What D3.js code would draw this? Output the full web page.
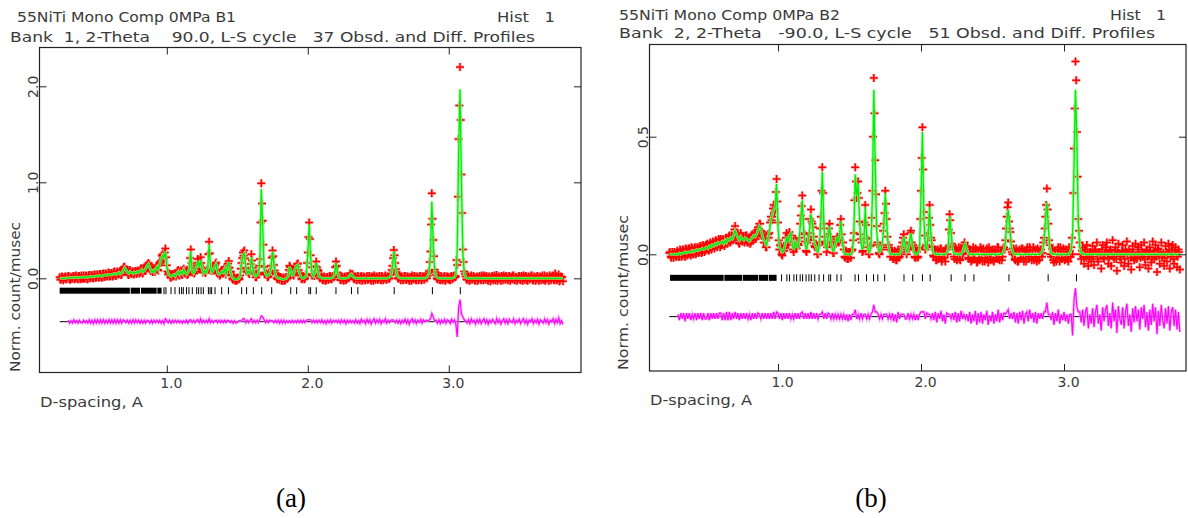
<!DOCTYPE html>
<html><head><meta charset="utf-8">
<script src="https://cdn.jsdelivr.net/npm/d3@7"></script>
<style>
body{margin:0;background:#fff}
svg{display:block}
text{font-family:"DejaVu Sans",sans-serif;fill:#3a3a3a}
</style>
</head><body>
<svg id="c" width="1188" height="518"></svg>
<script>
// ---------- sampling grid (D-spacing, A) ----------
const dStart = 0.24, dStep = 0.01;      // main points at 0.24, 0.25, ...; mid points at 0.245, 0.255, ...

// ---------- Bank 1 ----------
const calcB1 = [
/*0.24*/ 0,0,0,0,0,0.005,
/*0.30*/ 0.005,0.005,0.005,0.01,0.005,0.01,0.01,0.005,0.01,0.01,
/*0.40*/ 0.01,0.015,0.01,0.015,0.01,0.015,0.02,0.015,0.02,0.02,
/*0.50*/ 0.025,0.02,0.03,0.025,0.02,0.03,0.035,0.03,0.04,0.035,
/*0.60*/ 0.04,0.035,0.045,0.05,0.04,0.05,0.06,0.045,0.055,0.08,
/*0.70*/ 0.11,0.09,0.06,0.05,0.07,0.06,0.05,0.065,0.055,0.07,
/*0.80*/ 0.06,0.075,0.09,0.065,0.08,0.10,0.13,0.15,0.11,0.07,
/*0.90*/ 0.08,0.06,0.10,0.12,0.09,0.15,0.20,0.24,0.22,0.28,
/*1.00*/ 0.12,0.05,0.03,0.02,0.03,0.04,0.02,0.05,0.07,0.04,
/*1.10*/ 0.07,0.05,0.09,0.06,0.04,0.06,0.10,0.28,0.07,0.05,
/*1.20*/ 0.08,0.12,0.18,0.11,0.19,0.10,0.05,0.08,0.06,0.10,
/*1.30*/ 0.35,0.12,0.06,0.09,0.12,0.15,0.06,0.04,0.05,0.07,
/*1.40*/ 0.06,0.10,0.05,0.11,0.17,0.08,0.02,0,-0.01,-0.01,
/*1.50*/ -0.01,-0.005,0.02,0.15,0.24,0.26,0.12,0.05,0.07,0.05,
/*1.60*/ 0.22,0.12,0.04,0.02,0.03,0.05,0.18,0.93,0.55,0.10,
/*1.70*/ 0.05,0.02,0.03,0.05,0.12,0.28,0.15,0.04,0.01,0,
/*1.80*/ 0,-0.005,-0.01,-0.01,-0.005,0,0.02,0.12,0.08,0.03,
/*1.90*/ 0.04,0.10,0.13,0.14,0.06,0.02,0,0,0.01,0.03,
/*2.00*/ 0.25,0.56,0.22,0.04,0.02,0.06,0.16,0.10,0.02,0.01,
/*2.10*/ 0,0,0,0,0,0,0,0.005,0.01,0.04,
/*2.20*/ 0.16,0.07,0.01,0,0,0,0,0,0.005,0.01,
/*2.30*/ 0.035,0.045,0.02,0.005,0,0,0,0,0,0,
/*2.40*/ 0,0,0,0,0,0,0,0,0,0,
/*2.50*/ 0,0,0,0,0,0,0,0.005,0.01,0.03,
/*2.60*/ 0.11,0.28,0.17,0.05,0.015,0.005,0,0,0,0,
/*2.70*/ 0,0,0,0,0,0,0,0,0,0,
/*2.80*/ 0,0,0,0,0.005,0.02,0.06,0.25,0.80,0.35,
/*2.90*/ 0.08,0.02,0.005,0,0,0,0,0,0,0,
/*3.00*/ 0,0,0,0.005,0.01,0.04,0.30,1.30,1.97,1.00,
/*3.10*/ 0.25,0.05,0.01,0,0,0,0,0,0,0,
/*3.20*/ 0,0,0,0,0,0,0,0,0,0,
/*3.30*/ 0,0,0,0,0,0,0,0,0,0,
/*3.40*/ 0,0,0,0,0,0,0,0,0,0,
/*3.50*/ 0,0,0,0,0,0,0,0,0,0,
/*3.60*/ 0,0,0,0,0,0,0,0,0,0,
/*3.70*/ 0,0,0,0,0,0,0,0,0,0,
/*3.80*/ 0,0
];
const obsB1 = [
/*0.24*/ 0.01,-0.01,0.015,-0.005,0.02,-0.01,
/*0.30*/ 0.02,-0.01,0.015,-0.005,0.025,0,0.02,-0.01,0.025,0,
/*0.40*/ -0.005,0.03,0,0.025,-0.005,0.035,0.005,0.03,0,0.04,
/*0.50*/ 0.01,0.04,0.015,0.045,0.005,0.05,0.02,0.045,0.025,0.055,
/*0.60*/ 0.025,0.055,0.03,0.07,0.025,0.07,0.045,0.065,0.04,0.10,
/*0.70*/ 0.12,0.08,0.075,0.035,0.085,0.045,0.07,0.05,0.075,0.06,
/*0.80*/ 0.075,0.06,0.105,0.05,0.095,0.085,0.145,0.16,0.095,0.085,
/*0.90*/ 0.065,0.075,0.09,0.135,0.08,0.165,0.185,0.25,0.20,0.31,
/*1.00*/ 0.135,0.04,0.045,0.005,0.045,0.03,0.035,0.04,0.085,0.03,
/*1.10*/ 0.08,0.035,0.10,0.05,0.055,0.045,0.115,0.30,0.06,0.065,
/*1.20*/ 0.07,0.135,0.20,0.10,0.22,0.09,0.065,0.07,0.075,0.09,
/*1.30*/ 0.38,0.11,0.075,0.08,0.13,0.165,0.05,0.055,0.04,0.085,
/*1.40*/ 0.05,0.115,0.04,0.125,0.18,0.07,0.03,-0.015,0,-0.025,
/*1.50*/ -0.02,0.005,0.03,0.16,0.27,0.29,0.11,0.065,0.06,0.065,
/*1.60*/ 0.25,0.11,0.055,0.01,0.045,0.04,0.20,0.99,0.60,0.12,
/*1.70*/ 0.04,0.035,0.02,0.065,0.13,0.29,0.14,0.055,0,0.015,
/*1.80*/ -0.015,0.01,-0.025,0.005,-0.02,0.01,0.01,0.13,0.07,0.045,
/*1.90*/ 0.03,0.11,0.12,0.155,0.05,0.035,-0.01,0.015,0,0.045,
/*2.00*/ 0.27,0.58,0.24,0.03,0.035,0.05,0.175,0.09,0.035,0,
/*2.10*/ 0.02,-0.015,0.01,-0.02,0.015,-0.01,0.02,-0.01,0.025,0.035,
/*2.20*/ 0.175,0.06,0.025,-0.015,0.02,-0.01,0.015,-0.02,0.02,0,
/*2.30*/ 0.05,0.035,0.03,-0.01,0.02,-0.015,0.01,-0.02,0.025,-0.005,
/*2.40*/ 0.015,-0.02,0.025,-0.01,0.02,-0.025,0.01,0.03,-0.015,0.02,
/*2.50*/ -0.01,0.025,-0.02,0.015,-0.005,0.03,-0.015,0.02,0,0.045,
/*2.60*/ 0.13,0.295,0.16,0.065,0,0.02,-0.02,0.015,-0.01,0.025,
/*2.70*/ -0.015,0.02,-0.025,0.01,0.03,-0.01,0.02,-0.02,0.015,-0.005,
/*2.80*/ 0.025,-0.015,0.02,0,0.02,0.03,0.075,0.28,0.885,0.40,
/*2.90*/ 0.09,0.035,-0.01,0.02,-0.02,0.015,-0.01,0.025,-0.015,0.02,
/*3.00*/ 0.01,-0.02,0.025,0,0.03,0.02,0.14,1.45,2.20,1.08,
/*3.10*/ 0.30,0.07,0.02,-0.015,0.02,-0.02,0.03,-0.005,0.015,-0.025,
/*3.20*/ 0.02,-0.01,0.025,-0.02,0.01,0.03,-0.015,0.02,-0.025,0.015,
/*3.30*/ -0.01,0.025,0,-0.02,0.035,-0.01,0.02,-0.025,0.01,0.03,
/*3.40*/ -0.015,0.02,-0.02,0.025,0,-0.01,0.03,-0.02,0.015,-0.005,
/*3.50*/ 0.025,-0.02,0.01,0.03,-0.015,0.02,-0.025,0.015,0,0.03,
/*3.60*/ -0.02,0.015,-0.01,0.025,-0.025,0.02,0.005,-0.015,0.03,-0.01,
/*3.70*/ 0.02,-0.025,0.015,0,0.03,-0.02,0.025,-0.01,0.04,-0.02,
/*3.80*/ 0.01,-0.03
];
const obsMidB1 = [
/*0.245*/ -0.015,0.02,-0.02,0.01,-0.01,0.02,
/*0.305*/ 0.025,-0.015,0,0.025,-0.01,0.03,-0.005,0.025,-0.01,0.03,
/*0.405*/ 0,-0.005,0.03,-0.01,0.03,0,0.035,0,0.04,0.005,
/*0.505*/ 0.04,0.005,0.045,0.01,0.045,0.015,0.05,0.02,0.06,0.02,
/*0.605*/ 0.055,0.02,0.065,0.03,0.06,0.04,0.07,0.035,0.085,0.115,
/*0.705*/ 0.085,0.095,0.04,0.075,0.05,0.07,0.04,0.075,0.045,0.08,
/*0.805*/ 0.05,0.10,0.06,0.09,0.075,0.13,0.125,0.145,0.075,0.09,
/*0.905*/ 0.085,0.065,0.125,0.09,0.135,0.16,0.235,0.215,0.27,0.22,
/*1.005*/ 0.07,0.055,0.01,0.04,0.02,0.045,0.02,0.075,0.04,0.07,
/*1.105*/ 0.045,0.085,0.06,0.065,0.035,0.095,0.21,0.16,0.075,0.05,
/*1.205*/ 0.115,0.135,0.16,0.135,0.16,0.06,0.08,0.055,0.095,0.25,
/*1.305*/ 0.26,0.075,0.09,0.09,0.15,0.09,0.065,0.03,0.075,0.05,
/*1.405*/ 0.095,0.06,0.095,0.155,0.11,0.065,-0.005,0.01,-0.025,0.005,
/*1.505*/ 0.005,-0.01,0.10,0.21,0.235,0.205,0.07,0.075,0.045,0.15,
/*1.605*/ 0.185,0.065,0.045,0.01,0.055,0.13,0.58,0.78,0.35,0.06,
/*1.705*/ 0.05,0.01,0.055,0.07,0.215,0.23,0.08,0.04,-0.01,0.02,
/*1.805*/ 0.015,-0.025,0.005,-0.025,0.015,-0.005,0.085,0.115,0.04,0.05,
/*1.905*/ 0.085,0.10,0.15,0.085,0.055,-0.005,0.015,-0.01,0.035,0.16,
/*2.005*/ 0.43,0.41,0.115,0.045,0.025,0.125,0.115,0.075,0,0.02,
/*2.105*/ -0.02,0.02,-0.025,0.01,-0.015,0.025,-0.01,0.02,0.01,0.115,
/*2.205*/ 0.13,0.025,0.02,-0.02,0.015,-0.025,0.02,-0.01,0.025,0.01,
/*2.305*/ 0.025,0.045,0,0.02,-0.02,0.025,-0.01,0.015,-0.025,0.02,
/*2.405*/ -0.02,0.01,-0.015,0.025,-0.01,0.02,-0.025,0,0.02,-0.015,
/*2.505*/ 0.02,-0.015,0.025,-0.02,0.01,-0.01,0.02,-0.005,0.035,0.085,
/*2.605*/ 0.21,0.24,0.095,0.045,-0.005,0.015,0.02,-0.02,0.025,-0.015,
/*2.705*/ 0.02,-0.01,0.015,-0.025,0,0.025,-0.015,0.02,-0.02,0.025,
/*2.805*/ -0.02,0.02,-0.015,0.015,0,0.055,0.17,0.56,0.62,0.23,
/*2.905*/ 0.065,0,0.02,-0.015,0.025,-0.02,0.01,-0.025,0.02,-0.01,
/*3.005*/ -0.015,0.02,-0.01,0.025,0.01,0.19,0.85,1.80,1.65,0.68,
/*3.105*/ 0.17,0.045,-0.01,0.02,-0.025,0.015,-0.015,0.025,-0.02,0.01,
/*3.205*/ -0.025,0.015,-0.01,0.03,-0.02,0.005,0.025,-0.015,0.02,-0.03,
/*3.305*/ 0.02,-0.02,0.03,0.005,-0.025,0.02,-0.01,0.025,-0.02,0.01,
/*3.405*/ 0.025,-0.01,0.02,-0.025,0.015,0.03,-0.02,0.01,-0.025,0.02,
/*3.505*/ -0.015,0.025,-0.025,0.005,0.025,-0.02,0.02,-0.01,0.03,-0.02,
/*3.605*/ 0.02,-0.025,0.02,-0.015,0.01,-0.02,0.03,-0.01,-0.025,0.02,
/*3.705*/ -0.01,0.03,-0.02,0.025,-0.015,0.05,-0.02,0.015,-0.03,0.02,
/*3.805*/ 0.015
];
const refBandsB1 = [[0.24,0.738],[0.744,0.81],[0.817,0.928],[0.933,0.963]];
const refB1 = [0.98,0.994,1.03,1.058,1.089,1.105,1.117,1.14,1.157,1.181,1.212,1.226,1.243,1.259,
  1.295,1.307,1.318,1.342,1.389,1.437,1.531,1.566,1.614,1.673,1.744,1.879,1.921,2.008,2.02,2.06,
  2.2,2.31,2.355,2.613,2.884,3.082];

// ---------- Bank 2 ----------
const calcB2 = [
/*0.24*/ 0,0,0,0,0,0,
/*0.30*/ 0,0.005,0,0.005,0.005,0.01,0.005,0.01,0.01,0.01,
/*0.40*/ 0.015,0.01,0.015,0.02,0.015,0.02,0.02,0.025,0.02,0.025,
/*0.50*/ 0.03,0.025,0.035,0.03,0.04,0.035,0.045,0.04,0.05,0.045,
/*0.60*/ 0.05,0.055,0.045,0.06,0.05,0.065,0.06,0.07,0.065,0.08,
/*0.70*/ 0.10,0.085,0.07,0.06,0.075,0.065,0.06,0.07,0.065,0.06,
/*0.80*/ 0.055,0.065,0.07,0.08,0.075,0.085,0.10,0.12,0.11,0.08,
/*0.90*/ 0.06,0.05,0.04,0.07,0.10,0.145,0.17,0.19,0.20,0.30,
/*1.00*/ 0.12,0.03,0.02,0.01,0.015,0.04,0.075,0.05,0.08,0.09,
/*1.10*/ 0.04,0.02,0.05,0.035,0.03,0.08,0.15,0.23,0.10,0.04,
/*1.20*/ 0.02,0.05,0.10,0.17,0.14,0.06,0.04,0.02,0.01,0.04,
/*1.30*/ 0.15,0.35,0.14,0.04,0.02,0.07,0.12,0.06,0.02,0.015,
/*1.40*/ 0.04,0.075,0.05,0.08,0.14,0.06,0.01,0,0,0,
/*1.50*/ 0,0,0.01,0.08,0.34,0.25,0.30,0.15,0.05,0.02,
/*1.60*/ 0.04,0.20,0.08,0.02,0.01,0.03,0.25,0.70,0.38,0.10,
/*1.70*/ 0.03,0.01,0.02,0.05,0.12,0.26,0.14,0.04,0.01,0,
/*1.80*/ 0,0,0,0,0,0,0.01,0.04,0.075,0.04,
/*1.90*/ 0.01,0.02,0.06,0.09,0.04,0.01,0,0,0.005,0.02,
/*2.00*/ 0.25,0.52,0.16,0.03,0.02,0.08,0.20,0.08,0.015,0.005,
/*2.10*/ 0,0,0,0,0,0,0,0,0.005,0.02,
/*2.20*/ 0.16,0.10,0.02,0.005,0,0,0,0,0,0.01,
/*2.30*/ 0.03,0.045,0.02,0.005,0,0,0,0,0,0,
/*2.40*/ 0,0,0,0,0,0,0,0,0,0,
/*2.50*/ 0,0,0,0,0,0,0,0.005,0.015,0.05,
/*2.60*/ 0.14,0.19,0.12,0.04,0.01,0,0,0,0,0,
/*2.70*/ 0,0,0,0,0,0,0,0,0,0,
/*2.80*/ 0,0,0,0,0.005,0.015,0.05,0.14,0.22,0.12,
/*2.90*/ 0.03,0.005,0,0,0,0,0,0,0,0,
/*3.00*/ 0,0,0,0,0.005,0.02,0.08,0.38,0.70,0.48,
/*3.10*/ 0.13,0.03,0.005,0,0,0,0,0,0,0,
/*3.20*/ 0,0,0,0,0,0,0,0,0,0,
/*3.30*/ 0,0,0,0,0,0,0,0,0,0,
/*3.40*/ 0,0,0,0,0,0,0,0,0,0,
/*3.50*/ 0,0,0,0,0,0,0,0,0,0,
/*3.60*/ 0,0,0,0,0,0,0,0,0,0,
/*3.70*/ 0,0,0,0,0,0,0,0,0,0,
/*3.80*/ 0,0
];
const obsB2 = [
/*0.24*/ 0.005,-0.01,0.01,-0.015,0.005,-0.01,
/*0.30*/ 0.01,-0.01,0.015,-0.005,0.02,-0.01,0.02,0,0.025,-0.005,
/*0.40*/ 0.025,0,0.03,0.005,0.03,0.01,0.035,0.01,0.035,0.015,
/*0.50*/ 0.02,0.04,0.02,0.045,0.03,0.05,0.035,0.055,0.04,0.06,
/*0.60*/ 0.065,0.04,0.06,0.045,0.07,0.05,0.08,0.055,0.08,0.07,
/*0.70*/ 0.12,0.075,0.085,0.045,0.09,0.055,0.075,0.06,0.08,0.05,
/*0.80*/ 0.065,0.05,0.085,0.07,0.09,0.075,0.115,0.13,0.10,0.095,
/*0.90*/ 0.05,0.065,0.03,0.085,0.09,0.16,0.16,0.21,0.19,0.32,
/*1.00*/ 0.135,0.02,0.035,-0.005,0.03,0.03,0.09,0.04,0.095,0.08,
/*1.10*/ 0.05,0.01,0.065,0.025,0.045,0.07,0.165,0.25,0.09,0.055,
/*1.20*/ 0.01,0.065,0.09,0.19,0.13,0.075,0.03,0.035,0,0.05,
/*1.30*/ 0.16,0.37,0.13,0.055,0.01,0.085,0.13,0.05,0.035,0.005,
/*1.40*/ 0.05,0.065,0.06,0.07,0.15,0.05,0.02,-0.015,0.01,-0.02,
/*1.50*/ 0.01,-0.015,0.02,0.09,0.37,0.24,0.31,0.14,0.065,0.01,
/*1.60*/ 0.05,0.21,0.07,0.03,0,0.04,0.27,0.75,0.40,0.12,
/*1.70*/ 0.04,0,0.03,0.04,0.13,0.27,0.15,0.03,0.02,-0.01,
/*1.80*/ 0.015,-0.02,0.01,-0.025,0.02,-0.01,0.02,0.05,0.085,0.03,
/*1.90*/ 0,0.035,0.05,0.10,0.03,0.02,-0.015,0.01,-0.01,0.03,
/*2.00*/ 0.27,0.54,0.18,0.02,0.035,0.09,0.21,0.07,0.03,-0.01,
/*2.10*/ 0.02,-0.025,0.015,-0.01,0.025,-0.02,0.01,-0.03,0.02,0.03,
/*2.20*/ 0.17,0.09,0.035,-0.01,0.02,-0.025,0.015,-0.02,0.025,0,
/*2.30*/ 0.04,0.035,0.03,-0.015,0.02,-0.03,0.01,-0.02,0.025,-0.035,
/*2.40*/ 0.015,-0.025,0.02,-0.03,0.01,-0.015,0.025,-0.035,0.005,-0.02,
/*2.50*/ 0.02,-0.03,0.01,-0.02,0.03,-0.025,0.015,-0.01,0.03,0.06,
/*2.60*/ 0.16,0.22,0.11,0.055,0,0.02,-0.025,0.015,-0.03,0.02,
/*2.70*/ -0.015,0.025,-0.03,0.01,0.02,-0.02,0.03,-0.01,0.015,-0.025,
/*2.80*/ 0.02,-0.03,0.015,-0.01,0.02,0.005,0.07,0.16,0.28,0.13,
/*2.90*/ 0.04,-0.01,0.02,-0.035,0.015,-0.02,0.03,-0.03,0.01,-0.015,
/*3.00*/ 0.02,-0.02,0.01,-0.03,0.015,0.03,0,0.45,0.82,0.52,
/*3.10*/ 0.15,0.05,-0.02,0.03,-0.04,0.02,0.04,-0.05,0.01,-0.03,
/*3.20*/ 0.035,-0.045,0.02,0.05,-0.03,0.01,-0.06,0.04,-0.02,0.03,
/*3.30*/ 0.05,-0.04,0.015,-0.05,0.06,-0.02,0.03,-0.07,0.045,-0.01,
/*3.40*/ -0.035,0.04,-0.05,0.02,0.055,-0.04,0.01,-0.065,0.035,-0.025,
/*3.50*/ 0.045,-0.02,0.03,-0.055,0.04,-0.01,0.05,-0.045,0.02,-0.06,
/*3.60*/ 0.03,-0.035,0.055,-0.02,0.04,-0.075,0.025,-0.04,0.05,-0.015,
/*3.70*/ -0.05,0.035,-0.03,0.045,-0.06,0.02,0.04,-0.04,0.03,-0.055,
/*3.80*/ 0.02,-0.065
];
const obsMidB2 = [
/*0.245*/ 0.01,-0.015,0,0.01,-0.01,0.015,
/*0.305*/ -0.01,0.02,-0.01,0.02,-0.005,0.025,-0.005,0.025,0,0.03,
/*0.405*/ 0,0.025,0,0.03,0.005,0.035,0.005,0.04,0.01,0.04,
/*0.505*/ 0.045,0.015,0.05,0.02,0.055,0.025,0.06,0.03,0.065,0.03,
/*0.605*/ 0.04,0.065,0.035,0.07,0.045,0.075,0.05,0.08,0.06,0.105,
/*0.705*/ 0.08,0.09,0.05,0.08,0.06,0.075,0.05,0.08,0.05,0.07,
/*0.805*/ 0.045,0.08,0.06,0.09,0.065,0.105,0.095,0.13,0.08,0.085,
/*0.905*/ 0.07,0.03,0.07,0.07,0.135,0.145,0.195,0.18,0.265,0.225,
/*1.005*/ 0.06,0.04,0,0.025,0.015,0.07,0.05,0.08,0.07,0.08,
/*1.105*/ 0.02,0.05,0.03,0.045,0.04,0.13,0.205,0.15,0.085,0.015,
/*1.205*/ 0.05,0.06,0.15,0.14,0.115,0.035,0.045,0,0.04,0.11,
/*1.305*/ 0.27,0.26,0.075,0.045,0.03,0.11,0.075,0.055,0.005,0.04,
/*1.405*/ 0.045,0.075,0.05,0.125,0.085,0.05,-0.01,0.015,-0.02,0.01,
/*1.505*/ -0.015,0.015,0.06,0.23,0.31,0.26,0.24,0.085,0.05,0.015,
/*1.605*/ 0.135,0.125,0.065,0,0.035,0.155,0.50,0.60,0.255,0.05,
/*1.705*/ 0.005,0.03,0.02,0.10,0.175,0.215,0.075,0.04,-0.01,0.015,
/*1.805*/ -0.02,0.015,-0.025,0.01,-0.015,0.02,0.01,0.07,0.045,0.04,
/*1.905*/ 0.03,0.025,0.09,0.05,0.04,-0.01,0.015,-0.015,0.025,0.15,
/*2.005*/ 0.41,0.36,0.08,0.04,0.035,0.155,0.125,0.06,-0.005,0.02,
/*2.105*/ -0.025,0.02,-0.02,0.025,-0.03,0.015,-0.015,0.025,0,0.105,
/*2.205*/ 0.145,0.045,0.03,-0.02,0.025,-0.02,0.03,-0.025,0.02,0.005,
/*2.305*/ 0.05,0.02,0.03,-0.02,0.02,-0.025,0.03,-0.015,0.02,-0.03,
/*2.405*/ -0.02,0.03,-0.015,0.025,-0.03,0.01,-0.02,0.03,-0.025,0.015,
/*2.505*/ -0.025,0.02,-0.015,0.03,-0.02,0.015,-0.025,0.025,0.02,0.11,
/*2.605*/ 0.20,0.14,0.095,0.01,0.025,-0.02,0.025,-0.03,0.015,-0.02,
/*2.705*/ 0.025,-0.02,0.015,-0.03,0.03,-0.01,0.02,-0.025,0.03,-0.015,
/*2.805*/ -0.02,0.025,-0.025,0.02,-0.01,0.05,0.11,0.21,0.19,0.06,
/*2.905*/ 0,0.025,-0.025,0.015,-0.03,0.02,-0.015,0.03,-0.02,0.025,
/*3.005*/ -0.025,0.02,-0.02,0.03,-0.01,0.07,0.26,0.62,0.74,0.33,
/*3.105*/ 0.10,0,0.015,-0.01,0.02,-0.015,0.005,-0.02,0.01,0,
/*3.205*/ -0.01,0.015,0.005,-0.02,0.01,-0.005,0.02,-0.015,0,0.01,
/*3.305*/ 0.005,-0.015,0.02,0,-0.01,0.015,-0.02,0.01,0.005,-0.01,
/*3.405*/ 0.015,-0.005,-0.02,0.01,0,0.02,-0.015,0.005,0.01,-0.02,
/*3.505*/ -0.005,0.02,0,-0.015,0.01,0.005,-0.02,0.015,-0.01,0,
/*3.605*/ 0.01,-0.02,0.015,0,-0.01,0.02,-0.005,0.01,-0.015,0.005,
/*3.705*/ -0.015,0.01,0,0.02,-0.01,0.005,-0.02,0.015,0,-0.01,
/*3.805*/ 0.01
];
const refBandsB2 = [[0.245,0.62],[0.625,0.75],[0.755,0.86],[0.865,0.93],[0.935,0.99]];
const refB2 = [1.025,1.062,1.081,1.111,1.13,1.155,1.172,1.196,1.216,1.233,1.257,1.287,1.319,
  1.355,1.368,1.412,1.441,1.539,1.563,1.619,1.668,1.698,1.746,1.881,1.942,2.01,2.064,2.211,
  2.308,2.37,2.615,2.889,3.087];

// ---------- axes / labels ----------
const xTicks = [1, 2, 3];
const xTickLabels = ["1.0", "2.0", "3.0"];
const yTicksB1 = [0, 1, 2];
const yTickLabelsB1 = ["0.0", "1.0", "2.0"];
const yTicksB2 = [0, 0.5];
const yTickLabelsB2 = ["0.0", "0.5"];
const titleB1 = "55NiTi Mono Comp 0MPa B1";
const subtitleB1 = "Bank  1, 2-Theta    90.0, L-S cycle   37 Obsd. and Diff. Profiles";
const titleB2 = "55NiTi Mono Comp 0MPa B2";
const subtitleB2 = "Bank  2, 2-Theta   -90.0, L-S cycle   51 Obsd. and Diff. Profiles";
const histLabel = "Hist   1";
const yTitle = "Norm. count/musec";
const xTitle = "D-spacing, A";
const captions = ["(a)", "(b)"];

const svg = d3.select("#c");

const panels = [
  {calc: calcB1, obs: obsB1, obsMid: obsMidB1, bands: refBandsB1, refs: refB1, yTicks: yTicksB1, yLabels: yTickLabelsB1,
   title: titleB1, sub: subtitleB1, caption: captions[0],
   L: 39.5, R: 581, T: 47.5, B: 372.5, xDom: [0.097, 3.938], y0: 278.3, yPerUnit: 96,
   refLevel: -0.129, diffLevel: -0.452,
   t1: {x: 17, y: 22, len: 219}, hist: {x: 497, y: 22, len: 58}, t2: {x: 10, y: 42, len: 525},
   yt: {x: 20, y: 372, len: 150}, xt: {x: 40, y: 407, len: 103}, cap: {x: 291, y: 507}},
  {calc: calcB2, obs: obsB2, obsMid: obsMidB2, bands: refBandsB2, refs: refB2, yTicks: yTicksB2, yLabels: yTickLabelsB2,
   title: titleB2, sub: subtitleB2, caption: captions[1],
   L: 649.5, R: 1186, T: 44.5, B: 371, xDom: [0.1014, 3.853], y0: 254.3, yPerUnit: 235.2,
   refLevel: -0.10, diffLevel: -0.265,
   t1: {x: 619, y: 20, len: 221}, hist: {x: 1110, y: 20, len: 56}, t2: {x: 619, y: 38, len: 536},
   yt: {x: 628, y: 370, len: 155}, xt: {x: 650, y: 405, len: 102}, cap: {x: 871, y: 507}}
];

panels.forEach(p => {
  const g = svg.append("g");
  const x = d3.scaleLinear().domain(p.xDom).range([p.L, p.R]);
  const y = d3.scaleLinear().domain([(p.y0 - p.B) / p.yPerUnit, (p.y0 - p.T) / p.yPerUnit]).range([p.B, p.T]);
  const dAt = i => dStart + i * dStep;
  const dMid = i => dStart + dStep / 2 + i * dStep;

  // reflection markers
  g.selectAll(".band").data(p.bands).join("rect")
    .attr("x", b => x(b[0])).attr("width", b => x(b[1]) - x(b[0]))
    .attr("y", y(p.refLevel) - 3).attr("height", 6).attr("fill", "#000");
  g.selectAll(".ref").data(p.refs).join("line")
    .attr("x1", r => x(r)).attr("x2", r => x(r))
    .attr("y1", y(p.refLevel) - 3.5).attr("y2", y(p.refLevel) + 3.5)
    .attr("stroke", "#000").attr("stroke-width", 1);

  // difference curve (obs - calc), offset
  const diffPts = p.obs.map((o, i) => [dAt(i), p.diffLevel + (o - p.calc[i])]);
  g.append("line").attr("x1", x(dStart)).attr("x2", x(dAt(p.obs.length - 1)))
    .attr("y1", y(p.diffLevel)).attr("y2", y(p.diffLevel)).attr("stroke", "#000").attr("stroke-width", 1);
  const dl = d3.line().x(v => x(v[0])).y(v => y(v[1]));
  const diffShown = diffPts.filter(v => v[0] >= 0.30);
  g.append("path").attr("d", dl(diffShown)).attr("fill", "none")
    .attr("stroke", "#ff88ff").attr("stroke-width", 2.6).attr("opacity", 0.7);
  g.append("path").attr("d", dl(diffShown)).attr("fill", "none")
    .attr("stroke", "#ff00ff").attr("stroke-width", 1.1);

  // observed points as + markers
  const s = 4;
  let mp = "";
  const addMark = (d, o) => {
    const X = x(d), Y = y(o);
    mp += `M${(X - s).toFixed(1)},${Y.toFixed(1)}H${(X + s).toFixed(1)}M${X.toFixed(1)},${(Y - s).toFixed(1)}V${(Y + s).toFixed(1)}`;
  };
  p.obs.forEach((o, i) => addMark(dAt(i), o));
  p.obsMid.forEach((o, i) => addMark(dMid(i), o));
  g.append("path").attr("d", mp).attr("fill", "none").attr("stroke", "#ff7070").attr("stroke-width", 3.2).attr("opacity", 0.55);
  g.append("path").attr("d", mp).attr("fill", "none").attr("stroke", "#ff0000").attr("stroke-width", 1.5);

  // calculated profile
  const calcPts = p.calc.map((c, i) => [dAt(i), c]);
  g.append("path").attr("d", dl(calcPts)).attr("fill", "none")
    .attr("stroke", "#90ff90").attr("stroke-width", 3).attr("opacity", 0.8);
  g.append("path").attr("d", dl(calcPts)).attr("fill", "none")
    .attr("stroke", "#00ee00").attr("stroke-width", 1.3);

  // frame
  g.append("rect").attr("x", p.L).attr("y", p.T).attr("width", p.R - p.L).attr("height", p.B - p.T)
    .attr("fill", "none").attr("stroke", "#222").attr("stroke-width", 1.2);

  // bottom axis (inward ticks)
  const ax = g.append("g").attr("transform", `translate(0,${p.B})`)
    .call(d3.axisBottom(x).tickValues(xTicks).tickFormat((d, i) => xTickLabels[i]).tickSize(-7).tickSizeOuter(0).tickPadding(6));
  ax.select(".domain").remove();
  ax.selectAll("line").attr("stroke", "#222");
  ax.selectAll("text").attr("font-size", 14).attr("dx", 4).attr("fill", "#3a3a3a")
    .attr("font-family", "DejaVu Sans, sans-serif");
  // top axis ticks
  const axT = g.append("g").attr("transform", `translate(0,${p.T})`)
    .call(d3.axisTop(x).tickValues(xTicks).tickSize(-7).tickSizeOuter(0).tickFormat(""));
  axT.select(".domain").remove();
  axT.selectAll("line").attr("stroke", "#222");

  // left axis: inward ticks, rotated labels
  const ay = g.append("g").attr("transform", `translate(${p.L},0)`)
    .call(d3.axisLeft(y).tickValues(p.yTicks).tickFormat((d, i) => p.yLabels[i]).tickSize(-7).tickSizeOuter(0));
  ay.select(".domain").remove();
  ay.selectAll("line").attr("stroke", "#222");
  ay.selectAll("text").attr("x", 0).attr("y", -2).attr("dy", 0).attr("transform", "rotate(-90)")
    .attr("text-anchor", "middle").attr("font-size", 14).attr("fill", "#3a3a3a")
    .attr("font-family", "DejaVu Sans, sans-serif");
  // right axis ticks
  const ar = g.append("g").attr("transform", `translate(${p.R},0)`)
    .call(d3.axisRight(y).tickValues(p.yTicks).tickSize(-7).tickSizeOuter(0).tickFormat(""));
  ar.select(".domain").remove();
  ar.selectAll("line").attr("stroke", "#222");

  // texts
  const txt = (t, o) => g.append("text").attr("x", o.x).attr("y", o.y).attr("font-size", 14)
      .style("white-space", "pre").attr("textLength", o.len).attr("lengthAdjust", "spacingAndGlyphs").text(t);
  txt(p.title, p.t1);
  txt(histLabel, p.hist);
  txt(p.sub, p.t2);
  txt(xTitle, p.xt);
  g.append("text").attr("transform", `translate(${p.yt.x},${p.yt.y}) rotate(-90)`)
    .attr("font-size", 14).attr("textLength", p.yt.len).attr("lengthAdjust", "spacingAndGlyphs")
    .text(yTitle);
  g.append("text").attr("x", p.cap.x).attr("y", p.cap.y).attr("text-anchor", "middle")
    .style("font-family", "'Liberation Serif', 'Times New Roman', serif").attr("font-size", 27)
    .style("fill", "#000").text(p.caption);
});
</script>
</body></html>
